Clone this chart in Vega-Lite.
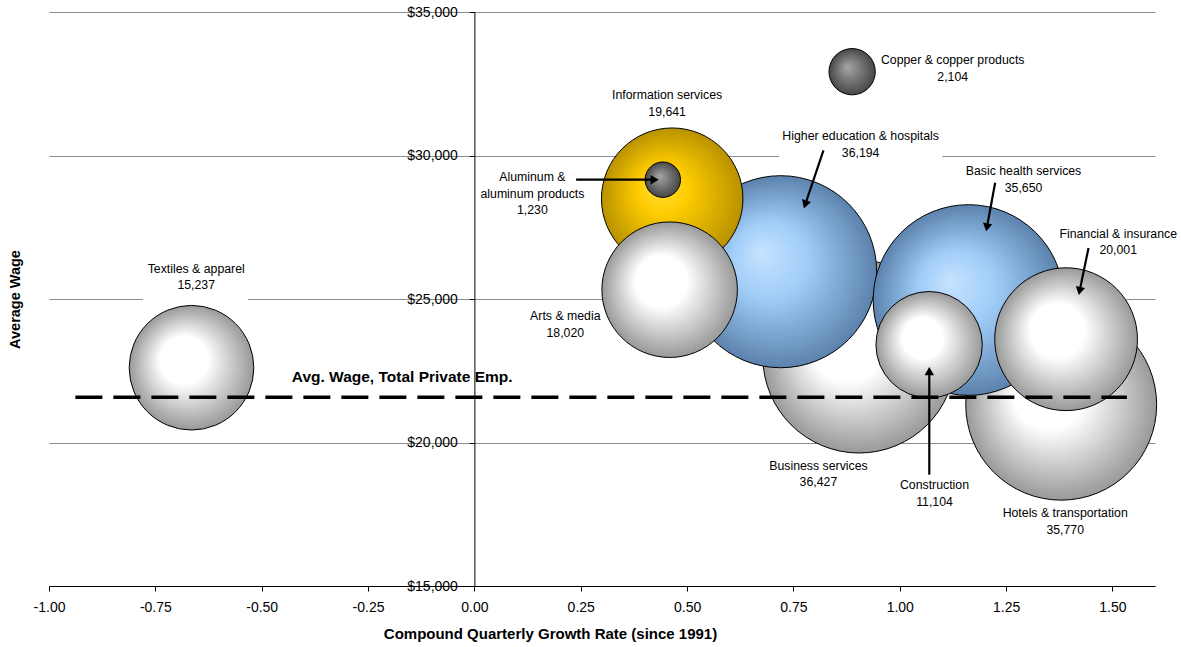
{
  "$schema": "https://vega.github.io/schema/vega-lite/v6.json",
  "autosize": {"type": "none"},
  "padding": {"left": 49, "top": 12, "right": 26, "bottom": 61},
  "width": 1106,
  "height": 574,
  "background": "white",
  "config": {
    "view": {"stroke": null},
    "font": "Liberation Sans",
    "locale": {"number": {"decimal": ".", "thousands": ",", "grouping": [3], "currency": ["$", ""], "minus": "-"}}
  },
  "datasets": {
    "bubbles": [
      {"sector": "Business services", "x": 0.9045, "y": 22990, "emp": 36427},
      {"sector": "Hotels & transportation", "x": 1.3795, "y": 21317, "emp": 35770},
      {"sector": "Higher education & hospitals", "x": 0.72, "y": 25951, "emp": 36194},
      {"sector": "Basic health services", "x": 1.1615, "y": 24965, "emp": 35650},
      {"sector": "Information services", "x": 0.465, "y": 28495, "emp": 19641},
      {"sector": "Arts & media", "x": 0.459, "y": 25324, "emp": 18020},
      {"sector": "Construction", "x": 1.069, "y": 23408, "emp": 11104},
      {"sector": "Financial & insurance", "x": 1.391, "y": 23599, "emp": 20001},
      {"sector": "Textiles & apparel", "x": -0.665, "y": 22606, "emp": 15237},
      {"sector": "Aluminum & aluminum products", "x": 0.443, "y": 29157, "emp": 1230},
      {"sector": "Copper & copper products", "x": 0.888, "y": 32920, "emp": 2104}
    ],
    "labels": [
      {"x": 0.4531, "y": 32094, "text": "Information services\n19,641"},
      {"x": 1.1244, "y": 33314, "text": "Copper & copper products\n2,104"},
      {"x": 0.908, "y": 30666, "text": "Higher education & hospitals\n36,194"},
      {"x": 0.1364, "y": 29237, "text": "Aluminum &\naluminum products\n1,230"},
      {"x": 1.2909, "y": 29446, "text": "Basic health services\n35,650"},
      {"x": 1.5135, "y": 27265, "text": "Financial & insurance\n20,001"},
      {"x": -0.6539, "y": 26056, "text": "Textiles & apparel\n15,237"},
      {"x": 0.2137, "y": 24394, "text": "Arts & media\n18,020"},
      {"x": 0.8088, "y": 19192, "text": "Business services\n36,427"},
      {"x": 1.0816, "y": 18505, "text": "Construction\n11,104"},
      {"x": 1.3889, "y": 17530, "text": "Hotels & transportation\n35,770"}
    ],
    "arrows": [
      {"x": 0.2391, "y": 29157, "x2": 0.4237, "y2": 29157},
      {"x": 0.8206, "y": 30178, "x2": 0.7777, "y2": 28293},
      {"x": 1.2243, "y": 29052, "x2": 1.2048, "y2": 27498},
      {"x": 1.4437, "y": 26777, "x2": 1.4228, "y2": 25279},
      {"x": 1.0694, "y": 18878, "x2": 1.0694, "y2": 22484}
    ],
    "heads": [
      {"x": 0.4237, "y": 29157, "angle": 90},
      {"x": 0.7777, "y": 28293, "angle": 198.6},
      {"x": 1.2048, "y": 27498, "angle": 190.5},
      {"x": 1.4228, "y": 25279, "angle": 191.7},
      {"x": 1.0694, "y": 22484, "angle": 0}
    ],
    "boxes": [
      {"x": -0.7789, "x2": -0.532, "y": 26439, "y2": 24871},
      {"x": 0.7164, "x2": 1.0997, "y": 31003, "y2": 29714}
    ],
    "avg": [
      {"x": -0.938, "x2": 1.534, "y": 21580}
    ],
    "avglabel": [
      {"x": -0.4293, "y": 22268, "text": "Avg. Wage, Total Private Emp."}
    ]
  },
  "encoding": {
    "x": {
      "field": "x", "type": "quantitative",
      "scale": {"domain": [-1, 1.6], "nice": false, "zero": false},
      "axis": {
        "title": "Compound Quarterly Growth Rate (since 1991)",
        "values": [-1, -0.75, -0.5, -0.25, 0, 0.25, 0.5, 0.75, 1, 1.25, 1.5],
        "format": ".2f", "grid": false,
        "domainColor": "black", "tickColor": "black", "tickSize": 5,
        "labelFontSize": 14, "labelColor": "black", "labelPadding": 9,
        "labelFont": "Liberation Sans", "labelFlush": false, "labelOverlap": false,
        "titleFont": "Liberation Sans", "titleFontSize": 15, "titleFontWeight": "bold", "titleColor": "black",
        "titleX": 501, "titleY": 47, "titleBaseline": "middle", "titleAlign": "center"
      }
    },
    "y": {
      "field": "y", "type": "quantitative",
      "scale": {"domain": [15000, 35000], "nice": false, "zero": false},
      "axis": {
        "title": "Average Wage",
        "values": [15000, 20000, 25000, 30000, 35000],
        "format": "$,.0f", "grid": true, "gridColor": "#8c8c8c", "gridWidth": 1,
        "domainColor": "black", "tickColor": "black", "tickSize": 5,
        "labelFontSize": 14, "labelColor": "black", "labelPadding": 12,
        "labelFont": "Liberation Sans",
        "offset": -425.4,
        "titleFont": "Liberation Sans", "titleFontSize": 14.5, "titleFontWeight": "bold", "titleColor": "black",
        "titleX": -459.4, "titleY": 287, "titleAngle": 270, "titleBaseline": "middle", "titleAlign": "center"
      }
    }
  },
  "layer": [
    {
      "data": {"name": "boxes"},
      "mark": {"type": "rect", "color": "white"},
      "encoding": {"x2": {"field": "x2"}, "y2": {"field": "y2"}}
    },
    {
      "data": {"name": "bubbles"},
      "transform": [{"filter": {"field": "sector", "oneOf": ["Business services", "Hotels & transportation"]}}],
      "mark": {"type": "circle", "opacity": 1, "stroke": "black", "strokeWidth": 1,
        "fill": {"gradient": "radial", "x1": 0.4, "y1": 0.4, "r1": 0, "x2": 0.5, "y2": 0.5, "r2": 0.5,
          "stops": [{"offset": 0, "color": "#ffffff"}, {"offset": 0.38, "color": "#ffffff"}, {"offset": 1, "color": "#999999"}]}},
      "encoding": {"size": {"field": "emp", "type": "quantitative", "scale": {"type": "linear", "domain": [0, 40000], "range": [0, 40760]}, "legend": null}}
    },
    {
      "data": {"name": "bubbles"},
      "transform": [{"filter": {"field": "sector", "oneOf": ["Higher education & hospitals", "Basic health services"]}}],
      "mark": {"type": "circle", "opacity": 1, "stroke": "black", "strokeWidth": 1,
        "fill": {"gradient": "radial", "x1": 0.4, "y1": 0.4, "r1": 0, "x2": 0.5, "y2": 0.5, "r2": 0.5,
          "stops": [{"offset": 0, "color": "#c6e3ff"}, {"offset": 0.4, "color": "#a0cdf8"}, {"offset": 1, "color": "#5b82ad"}]}},
      "encoding": {"size": {"field": "emp", "type": "quantitative", "scale": {"type": "linear", "domain": [0, 40000], "range": [0, 40760]}, "legend": null}}
    },
    {
      "data": {"name": "bubbles"},
      "transform": [{"filter": {"field": "sector", "oneOf": ["Information services"]}}],
      "mark": {"type": "circle", "opacity": 1, "stroke": "black", "strokeWidth": 1,
        "fill": {"gradient": "radial", "x1": 0.4, "y1": 0.4, "r1": 0, "x2": 0.5, "y2": 0.5, "r2": 0.5,
          "stops": [{"offset": 0, "color": "#ffe040"}, {"offset": 0.35, "color": "#ffcc00"}, {"offset": 1, "color": "#b89200"}]}},
      "encoding": {"size": {"field": "emp", "type": "quantitative", "scale": {"type": "linear", "domain": [0, 40000], "range": [0, 40760]}, "legend": null}}
    },
    {
      "data": {"name": "bubbles"},
      "transform": [{"filter": {"field": "sector", "oneOf": ["Arts & media", "Construction", "Financial & insurance", "Textiles & apparel"]}}],
      "mark": {"type": "circle", "opacity": 1, "stroke": "black", "strokeWidth": 1,
        "fill": {"gradient": "radial", "x1": 0.4, "y1": 0.4, "r1": 0, "x2": 0.5, "y2": 0.5, "r2": 0.5,
          "stops": [{"offset": 0, "color": "#ffffff"}, {"offset": 0.38, "color": "#ffffff"}, {"offset": 1, "color": "#999999"}]}},
      "encoding": {"size": {"field": "emp", "type": "quantitative", "scale": {"type": "linear", "domain": [0, 40000], "range": [0, 40760]}, "legend": null}}
    },
    {
      "data": {"name": "bubbles"},
      "transform": [{"filter": {"field": "sector", "oneOf": ["Aluminum & aluminum products", "Copper & copper products"]}}],
      "mark": {"type": "circle", "opacity": 1, "stroke": "black", "strokeWidth": 1,
        "fill": {"gradient": "radial", "x1": 0.4, "y1": 0.4, "r1": 0, "x2": 0.5, "y2": 0.5, "r2": 0.5,
          "stops": [{"offset": 0, "color": "#a6a6a6"}, {"offset": 0.3, "color": "#8a8a8a"}, {"offset": 1, "color": "#474747"}]}},
      "encoding": {"size": {"field": "emp", "type": "quantitative", "scale": {"type": "linear", "domain": [0, 40000], "range": [0, 40760]}, "legend": null}}
    },
    {
      "data": {"name": "avg"},
      "mark": {"type": "rule", "color": "black", "strokeWidth": 3.5, "strokeDash": [27, 11]},
      "encoding": {"x2": {"field": "x2"}}
    },
    {
      "data": {"name": "avglabel"},
      "mark": {"type": "text", "font": "Liberation Sans", "fontSize": 15.5, "fontWeight": "bold", "align": "left", "baseline": "middle", "color": "black"},
      "encoding": {"text": {"field": "text"}}
    },
    {
      "data": {"name": "arrows"},
      "mark": {"type": "rule", "color": "black", "strokeWidth": 2.2},
      "encoding": {"x2": {"field": "x2"}, "y2": {"field": "y2"}}
    },
    {
      "data": {"name": "heads"},
      "mark": {"type": "point", "shape": "triangle-up", "filled": true, "color": "black", "opacity": 1, "size": 90},
      "encoding": {"angle": {"field": "angle", "type": "quantitative", "scale": null}}
    },
    {
      "data": {"name": "labels"},
      "mark": {"type": "text", "font": "Liberation Sans", "fontSize": 12.3, "color": "black", "lineBreak": "\n", "lineHeight": 16.5, "align": "center", "baseline": "middle"},
      "encoding": {"text": {"field": "text"}}
    }
  ]
}
